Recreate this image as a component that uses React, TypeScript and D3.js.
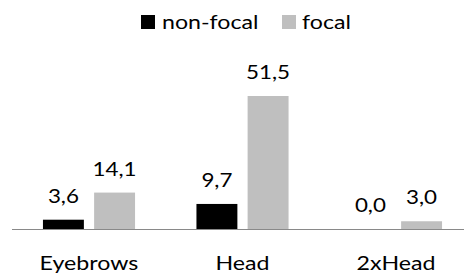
import * as d3 from 'd3';

const categories = ['Eyebrows', 'Head', '2xHead'];
const seriesNames = ['non-focal', 'focal'];
const nonFocal = [3.6, 9.7, 0.0];
const focal = [14.1, 51.5, 3.0];
const seriesColors = ['#000000', '#BFBFBF'];

const W = 464;
const H = 275;
const FONT = "Lato, 'Open Sans', sans-serif";
const SX_LABEL = 1.22; // the original font runs wider than Lato
const SX_VALUE = 1.12;

const comma = d3.formatLocale({ decimal: ',', thousands: '.', grouping: [3], currency: ['', ''] }).format('.1f');

export default function App() {
  const baseY = 229;
  const x = d3.scaleBand<string>().domain(categories).range([12.25, 472.75]).paddingInner(0).paddingOuter(0);
  const inner = d3.scaleBand<string>().domain(seriesNames).range([0, x.bandwidth()]).paddingInner(0.2).paddingOuter(0.6);
  const y = d3.scaleLinear().domain([0, 60]).range([baseY, baseY - 60 * 2.5825]);

  const rows = categories.map((c, i) => ({ cat: c, values: [nonFocal[i], focal[i]] }));

  const legendItems = [
    { name: seriesNames[0], color: seriesColors[0], box: 141, text: 162 },
    { name: seriesNames[1], color: seriesColors[1], box: 282, text: 302 },
  ];

  return (
    <svg width={W} height={H} style={{ position: 'absolute', left: 0, top: 0, background: '#fff' }} fontFamily={FONT}>
      {/* legend */}
      {legendItems.map(l => (
        <g key={l.name}>
          <rect x={l.box} y={15} width={14} height={14} fill={l.color} />
          <text transform={`translate(${l.text},29) scale(${SX_LABEL},1)`} fontSize={19} fill="#000">{l.name}</text>
        </g>
      ))}

      {/* bars + value labels */}
      {rows.map(r => (
        <g key={r.cat} transform={`translate(${x(r.cat)},0)`}>
          {r.values.map((v, j) => {
            const bx = inner(seriesNames[j])!;
            const bw = inner.bandwidth();
            return (
              <g key={j}>
                <rect x={bx} y={y(v)} width={bw} height={baseY - y(v)} fill={seriesColors[j]} />
                <text transform={`translate(${bx + bw / 2},${y(v) - 17}) scale(${SX_VALUE},1)`} textAnchor="middle" fontSize={20} fill="#000">
                  {comma(v)}
                </text>
              </g>
            );
          })}
        </g>
      ))}

      {/* axis line */}
      <line x1={12} x2={W} y1={baseY + 0.5} y2={baseY + 0.5} stroke="#898989" strokeWidth={1.2} />

      {/* category labels */}
      {categories.map(c => (
        <text key={c} transform={`translate(${x(c)! + x.bandwidth() / 2},269.5) scale(${SX_LABEL},1)`} textAnchor="middle" fontSize={19} fill="#000">
          {c}
        </text>
      ))}
    </svg>
  );
}
